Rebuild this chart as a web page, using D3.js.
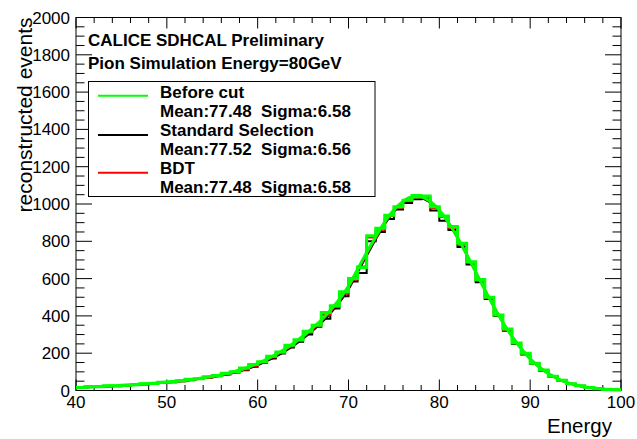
<!DOCTYPE html>
<html><head><meta charset="utf-8">
<script src="https://cdn.jsdelivr.net/npm/d3@7"></script>
<style>body{margin:0;background:#fff}svg{display:block}text{font-family:"Liberation Sans",Arial,sans-serif}</style>
</head><body>
<script>
// ---- data ----
const binEdges = d3.range(40, 101, 1); // 40..100
const beforeCut = [16,22,20,25,24,28,31,36,38,44,46,52,60,63,74,80,92,101,120,140,154,184,206,242,272,318,350,418,455,530,600,660,830,870,940,985,1020,1045,1043,985,935,880,790,690,595,500,405,330,255,200,146,110,76,55,36,25,16,10,6,4];
const standardSel = [15,19,19,23,24,26,30,33,36,41,44,49,55,61,68,76,86,97,108,128,148,172,198,230,262,300,342,385,440,505,585,630,800,850,920,970,1005,1025,1030,965,910,860,770,675,580,490,400,320,250,193,142,105,74,52,35,24,15,9,6,3];
const bdt = [16,20,19,24,23,27,30,34,37,42,45,50,57,62,70,78,89,98,112,133,150,178,201,236,267,310,347,405,448,520,595,665,820,862,935,980,1015,1040,1038,978,930,872,782,685,590,497,403,326,253,198,145,108,75,54,36,25,16,10,6,4];
const fitX = d3.range(40, 101, 1);
const fitBefore = [15,17,20,22,25,27,30,33,37,41,45,50,55,61,68,76,85,96,110,126,145,168,193,222,255,292,333,378,430,490,560,650,740,825,905,969,1014,1037,1037,1013,967,901,821,731,636,541,450,365,290,225,170,126,91,64,44,30,20,13,8,5,3];
const fitStd = [14,16,19,21,23,26,29,32,35,39,43,47,52,58,64,72,80,90,103,118,136,158,182,210,242,278,318,362,413,472,542,632,722,810,892,958,1004,1028,1030,1007,962,897,818,729,635,540,449,364,289,224,169,125,90,63,43,29,19,12,8,5,3];
const fitBdt = [15,17,20,22,24,27,30,33,36,40,44,49,54,60,66,74,83,93,107,122,141,163,188,216,249,285,326,370,422,481,551,641,731,818,899,964,1010,1034,1035,1011,966,900,820,730,636,541,450,365,290,225,170,126,91,64,44,30,20,13,8,5,3];
const xTicks = [40,50,60,70,80,90,100];
const yTicks = [0,200,400,600,800,1000,1200,1400,1600,1800,2000];
const legendNames = ["Before cut","Standard Selection","BDT"];
const legendStats = ["Mean:77.48  Sigma:6.58","Mean:77.52  Sigma:6.56","Mean:77.48  Sigma:6.58"];
const legendColors = ["#00ff00","#000000","#ff0000"];
const titleLines = ["CALICE SDHCAL Preliminary","Pion Simulation Energy=80GeV"];

// ---- layout ----
const W = 637, H = 439;
const L = 76, R = 621, T = 17.5, B = 390.5;
const svg = d3.select("body").append("svg").attr("width", W).attr("height", H);
const x = d3.scaleLinear().domain([40, 100]).range([L, R]);
const y = d3.scaleLinear().domain([0, 2000]).range([B, T]);

// frame
svg.append("rect").attr("x", L).attr("y", T).attr("width", R - L).attr("height", B - T)
  .attr("fill", "none").attr("stroke", "#000").attr("stroke-width", 1);

// ticks
const g = svg.append("g").attr("stroke", "#000").attr("stroke-width", 1);
d3.range(40, 100.01, 2).forEach(v => {
  const major = v % 10 === 0;
  const len = major ? 11 : 5.5;
  g.append("line").attr("x1", x(v)).attr("x2", x(v)).attr("y1", B).attr("y2", B - len);
  g.append("line").attr("x1", x(v)).attr("x2", x(v)).attr("y1", T).attr("y2", T + len);
});
d3.range(0, 2000.01, 50).forEach(v => {
  const major = v % 200 === 0;
  const len = major ? 16 : 8.5;
  g.append("line").attr("x1", L).attr("x2", L + len).attr("y1", y(v)).attr("y2", y(v));
  g.append("line").attr("x1", R).attr("x2", R - len).attr("y1", y(v)).attr("y2", y(v));
});

// tick labels
svg.append("g").selectAll("text").data(xTicks).join("text")
  .attr("x", d => x(d)).attr("y", 408).attr("text-anchor", "middle")
  .attr("font-size", 17).text(d => d);
svg.append("g").selectAll("text").data(yTicks).join("text")
  .attr("x", 70).attr("y", d => y(d) + 6).attr("text-anchor", "end")
  .attr("font-size", 17).text(d => d);

// axis titles
svg.append("text").attr("x", 612).attr("y", 433).attr("text-anchor", "end")
  .attr("font-size", 20.5).text("Energy");
svg.append("text").attr("transform", `translate(32,${T}) rotate(-90)`)
  .attr("text-anchor", "end").attr("font-size", 21).text("reconstructed events");

// histograms and fits
const plot = svg.append("g");
function hist(vals, color, w) {
  const pts = vals.map((v, i) => [binEdges[i], v]);
  pts.push([binEdges[vals.length], vals[vals.length - 1]]);
  plot.append("path").attr("d", d3.line().x(d => x(d[0])).y(d => y(d[1])).curve(d3.curveStepAfter)(pts))
    .attr("fill", "none").attr("stroke", color).attr("stroke-width", w);
}
function fit(vals, color, w) {
  const pts = vals.map((v, i) => [fitX[i], v]);
  plot.append("path").attr("d", d3.line().x(d => x(d[0])).y(d => y(d[1])).curve(d3.curveMonotoneX)(pts))
    .attr("fill", "none").attr("stroke", color).attr("stroke-width", w);
}
hist(standardSel, "#000", 2);
fit(fitStd, "#000", 2);
hist(bdt, "#ff0000", 2);
fit(fitBdt, "#ff0000", 2);
hist(beforeCut, "#00ff00", 3);
fit(fitBefore, "#00ff00", 3);

// title text
svg.append("g").selectAll("text").data(titleLines).join("text")
  .attr("x", 88).attr("y", (d, i) => 46 + i * 22.5).attr("font-size", 17).attr("font-weight", "bold")
  .text(d => d);

// legend
const lg = svg.append("g");
lg.append("rect").attr("x", 88.5).attr("y", 81.5).attr("width", 286.5).attr("height", 115)
  .attr("fill", "#fff").attr("stroke", "#000").attr("stroke-width", 1);
const lineY = [95.7, 135, 172.7];
legendNames.forEach((n, i) => {
  lg.append("line").attr("x1", 98).attr("x2", 148).attr("y1", lineY[i]).attr("y2", lineY[i])
    .attr("stroke", legendColors[i]).attr("stroke-width", 2);
  lg.append("text").attr("x", 160).attr("y", 97.5 + i * 38).attr("font-size", 17).attr("font-weight", "bold").text(n);
  lg.append("text").attr("x", 160).attr("y", 116.5 + i * 38).attr("font-size", 17).attr("font-weight", "bold")
    .attr("xml:space", "preserve").style("white-space", "pre").text(legendStats[i]);
});
</script>
</body></html>
